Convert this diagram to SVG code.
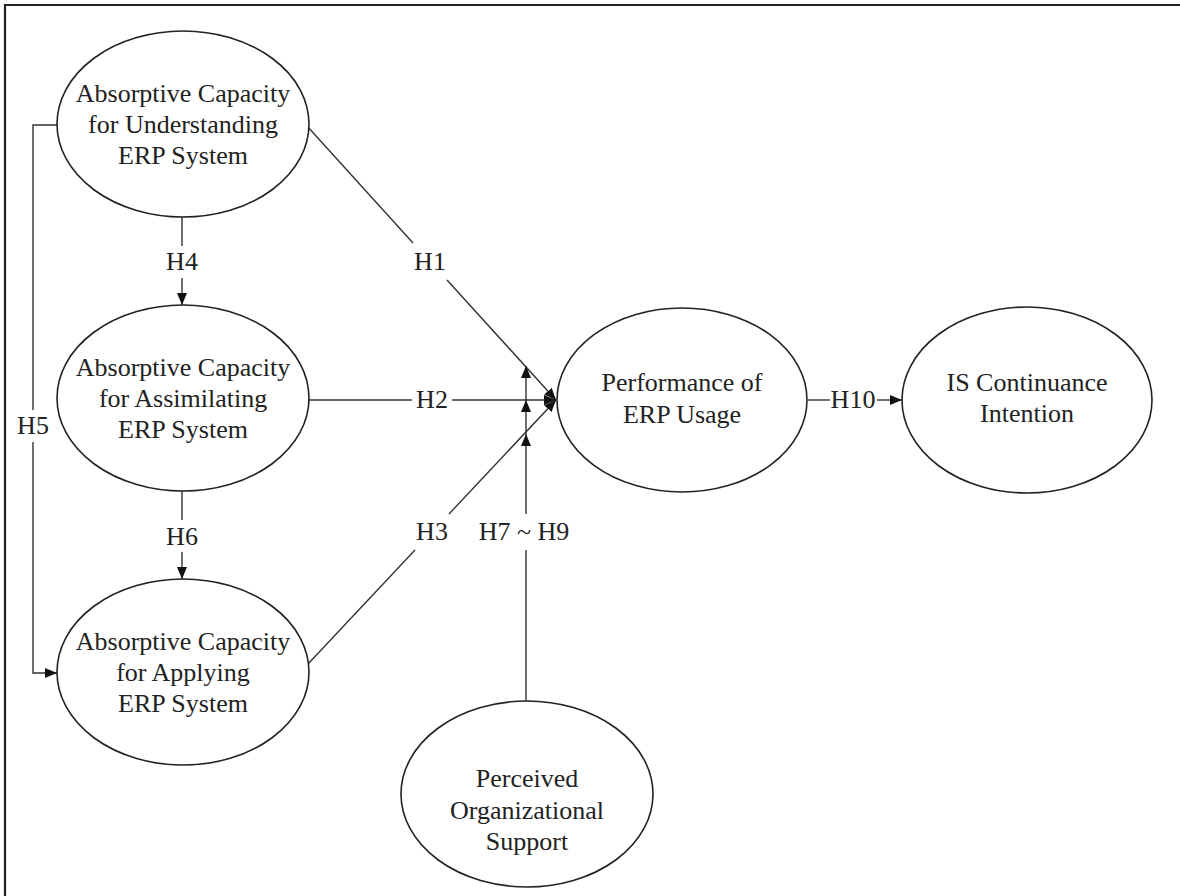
<svg xmlns="http://www.w3.org/2000/svg" width="1180" height="896" viewBox="0 0 1180 896">
<defs>
<marker id="arr" markerUnits="userSpaceOnUse" markerWidth="12" markerHeight="10" refX="12" refY="5" orient="auto">
<path d="M0,0 L12,5 L0,10 z" fill="#111"/>
</marker>
<style>
.node ellipse{fill:#fff;stroke:#222;stroke-width:1.6}
.node text, .lbl{font-family:"Liberation Serif","Times New Roman",serif;font-size:25px;fill:#222;text-anchor:middle}
.conn path{fill:none;stroke:#333;stroke-width:1.4}
.frame{fill:none;stroke:#222;stroke-width:2.2}
</style>
</defs>
<rect width="1180" height="896" fill="#fff"/>
<path class="frame" d="M1181,5 H5 V897"/>

<g id="connectors" class="conn">
<path d="M57,125 H33 V410"/>
<path d="M33,442 V673 H57" marker-end="url(#arr)"/>
<path d="M182,217 V246"/>
<path d="M182,278 V305" marker-end="url(#arr)"/>
<path d="M182,491 V520"/>
<path d="M182,552 V579" marker-end="url(#arr)"/>
<path d="M307,126 L413,243"/>
<path d="M447,280 L556,400" marker-end="url(#arr)"/>
<path d="M309,400 H412"/>
<path d="M452,400 H556" marker-end="url(#arr)"/>
<path d="M308,664 L415,550"/>
<path d="M449,514 L556,400" marker-end="url(#arr)"/>
<path d="M526,701 V550"/>
<path d="M526,514 V434" marker-end="url(#arr)"/>
<path d="M526,434 V400" marker-end="url(#arr)"/>
<path d="M526,400 V366" marker-end="url(#arr)"/>
<path d="M808,400 H830"/>
<path d="M877,400 H902" marker-end="url(#arr)"/>
</g>

<g id="labels">
<text class="lbl" transform="translate(430 0) scale(1.04 1)" x="0" y="270">H1</text>
<text class="lbl" transform="translate(432 0) scale(1.04 1)" x="0" y="408">H2</text>
<text class="lbl" transform="translate(432 0) scale(1.04 1)" x="0" y="540">H3</text>
<text class="lbl" transform="translate(182 0) scale(1.04 1)" x="0" y="270">H4</text>
<text class="lbl" transform="translate(33 0) scale(1.04 1)" x="0" y="434">H5</text>
<text class="lbl" transform="translate(182 0) scale(1.04 1)" x="0" y="545">H6</text>
<text class="lbl" transform="translate(524 0) scale(1.04 1)" x="0" y="540">H7 ~ H9</text>
<text class="lbl" transform="translate(853 0) scale(1.04 1)" x="0" y="408">H10</text>
</g>

<g id="acq-understanding" class="node">
<ellipse cx="183" cy="124" rx="126" ry="93"/>
<text transform="translate(183 0) scale(1.04 1)"><tspan x="0" y="102">Absorptive Capacity</tspan><tspan x="0" y="133">for Understanding</tspan><tspan x="0" y="164">ERP System</tspan></text>
</g>
<g id="acq-assimilating" class="node">
<ellipse cx="183" cy="398" rx="126" ry="93"/>
<text transform="translate(183 0) scale(1.04 1)"><tspan x="0" y="376">Absorptive Capacity</tspan><tspan x="0" y="407">for Assimilating</tspan><tspan x="0" y="438">ERP System</tspan></text>
</g>
<g id="acq-applying" class="node">
<ellipse cx="183" cy="672" rx="126" ry="93"/>
<text transform="translate(183 0) scale(1.04 1)"><tspan x="0" y="650">Absorptive Capacity</tspan><tspan x="0" y="681">for Applying</tspan><tspan x="0" y="712">ERP System</tspan></text>
</g>
<g id="performance" class="node">
<ellipse cx="682" cy="400" rx="125" ry="92"/>
<text transform="translate(682 0) scale(1.04 1)"><tspan x="0" y="391">Performance of</tspan><tspan x="0" y="423">ERP Usage</tspan></text>
</g>
<g id="continuance" class="node">
<ellipse cx="1027" cy="400" rx="125" ry="93"/>
<text transform="translate(1027 0) scale(1.04 1)"><tspan x="0" y="391">IS Continuance</tspan><tspan x="0" y="422">Intention</tspan></text>
</g>
<g id="org-support" class="node">
<ellipse cx="527" cy="794" rx="126" ry="93"/>
<text transform="translate(527 0) scale(1.04 1)"><tspan x="0" y="787">Perceived</tspan><tspan x="0" y="819">Organizational</tspan><tspan x="0" y="850">Support</tspan></text>
</g>
</svg>
